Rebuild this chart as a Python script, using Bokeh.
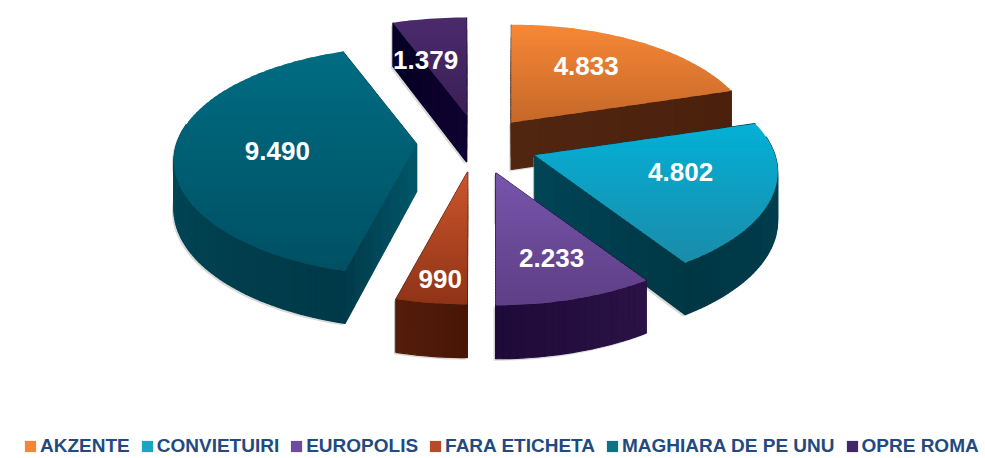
import math
from bokeh.plotting import figure
from bokeh.models import Legend, LegendItem, ColumnDataSource
from bokeh.embed import file_html
from bokeh.resources import INLINE
from bokeh.core.properties import value

# ---- data
categories = ["AKZENTE", "CONVIETUIRI", "EUROPOLIS", "FARA ETICHETA", "MAGHIARA DE PE UNU", "OPRE ROMA"]
values = [4833, 4802, 2233, 990, 9490, 1379]
labels = ["4.833", "4.802", "2.233", "990", "9.490", "1.379"]

# ---- styling
legend_colors = ["#F58634", "#1BA5C4", "#6F4BA0", "#B8492A", "#0A7386", "#43266A"]
top_from = ["#F68736", "#04B0D6", "#7655AB", "#CB552B", "#006C82", "#4A2A6C"]
top_to = ["#C56829", "#1B8BA9", "#5E3E85", "#8E3317", "#005063", "#3A2056"]
wall_a = ["#512611", "#004455", "#2B1246", "#551E0A", "#005567", "#0E0230"]
wall_b = ["#4A200C", "#003644", "#1E0A38", "#491606", "#003948", "#050022"]
paint_order = [5, 0, 1, 4, 2, 3]
label_r = [0.56, 0.60, 0.70, 0.80, 0.57, 0.55]
label_nudge = [(-2, -8), (7, -7), (3, 0), (-1, 3), (-3, 1), (-19, 0)]
apex_nudge = [(-2, 0), (1, 0), (1, 0), (-2, -2), (-1, -3), (0, -2)]

CX, CY, RX, RY, PERSP, EXPLODE = 477, 145, 240, 115, 0.15, 0.25
FONT = "Liberation Sans"


def proj(ax, ay, u, v):
    s = 1 - PERSP * v
    return ax + RX * u * s, ay - RY * v * s


def depth(y):
    return 47 + (y - 120) * 0.035


def mix(c1, c2, t):
    a = [int(c1[i:i + 2], 16) for i in (1, 3, 5)]
    b = [int(c2[i:i + 2], 16) for i in (1, 3, 5)]
    return "#%02x%02x%02x" % tuple(round(x + (y - x) * t) for x, y in zip(a, b))


def clip(poly, y0, keep_below):
    out = []
    n = len(poly)
    for i in range(n):
        p_, q = poly[i], poly[(i + 1) % n]
        ip = p_[1] >= y0 if keep_below else p_[1] <= y0
        iq = q[1] >= y0 if keep_below else q[1] <= y0
        if ip:
            out.append(p_)
        if ip != iq:
            t = (y0 - p_[1]) / (q[1] - p_[1])
            out.append((p_[0] + (q[0] - p_[0]) * t, y0))
    return out


p = figure(width=985, height=458, x_range=(0, 985), y_range=(458, 0),
           output_backend="svg", toolbar_location=None, min_border=0)
p.axis.visible = False
p.grid.visible = False
p.outline_line_color = None

total = sum(values)
starts = []
acc = 0.0
for val in values:
    starts.append(acc / total * 2 * math.pi)
    acc += val

for i in paint_order:
    a0 = starts[i]
    a1 = a0 + values[i] / total * 2 * math.pi
    mid = (a0 + a1) / 2
    ax = CX + RX * EXPLODE * math.sin(mid) + apex_nudge[i][0]
    ay = CY - RY * EXPLODE * math.cos(mid) + apex_nudge[i][1]
    n = max(8, int((a1 - a0) * 40))
    arc = [proj(ax, ay, math.sin(a0 + (a1 - a0) * k / n), math.cos(a0 + (a1 - a0) * k / n)) for k in range(n + 1)]
    arc_v = [math.cos(a0 + (a1 - a0) * k / n) for k in range(n + 1)]
    apex = (ax, ay)
    walls = []
    shadows = []
    # the two cut faces
    for end in (arc[0], arc[-1]):
        shadows.append(([apex[0], end[0], end[0], apex[0]],
                        [apex[1], end[1], end[1] + depth(end[1]), apex[1] + depth(apex[1])]))
        m = 8
        for k in range(m):
            t0, t1 = k / m, (k + 1) / m
            x0, y0 = apex[0] + (end[0] - apex[0]) * t0, apex[1] + (end[1] - apex[1]) * t0
            x1, y1 = apex[0] + (end[0] - apex[0]) * t1, apex[1] + (end[1] - apex[1]) * t1
            walls.append(([x0, x1, x1, x0], [y0, y1, y1 + depth(y1), y0 + depth(y0)], mix(wall_a[i], wall_b[i], t0)))
    # the front of the outer wall; on the left half it darkens towards the front
    front = [k for k in range(n + 1) if arc_v[k] < 0.15]
    if front:
        tx = [arc[k][0] for k in front]
        ty = [arc[k][1] for k in front]
        shadows.append((tx + tx[::-1], ty + [y + depth(y) for y in ty[::-1]]))
    for k in range(n):
        if arc_v[k] < 0.15 or arc_v[k + 1] < 0.15:
            (x0, y0), (x1, y1) = arc[k], arc[k + 1]
            t = 1 - k / n if mid > math.pi else k / n
            walls.append(([x0, x1, x1, x0], [y0, y1, y1 + depth(y1), y0 + depth(y0)], mix(wall_a[i], wall_b[i], t)))
    p.patches([[x - 2 for x in s[0]] for s in shadows], [[y + 2 for y in s[1]] for s in shadows],
              fill_color="#808080", fill_alpha=0.3, line_color=None)
    p.patches([w[0] for w in walls], [w[1] for w in walls], fill_color=[w[2] for w in walls],
              line_color=[w[2] for w in walls], line_width=1.2)
    # top surface, in overlapping horizontal bands for its gradient
    poly = [apex] + arc
    ymin = min(q[1] for q in poly)
    ymax = max(q[1] for q in poly)
    bxs, bys, bcs = [], [], []
    y = ymin
    while y < ymax:
        band = clip(clip(poly, y, True), y + 5, False)
        if len(band) >= 3:
            bxs.append([q[0] for q in band])
            bys.append([q[1] for q in band])
            bcs.append(mix(top_from[i], top_to[i], (y - ymin) / (ymax - ymin)))
        y += 3
    p.patches(bxs, bys, fill_color=bcs, line_color=None)

# value labels
lx, ly = [], []
for i in range(len(values)):
    a0 = starts[i]
    mid = a0 + values[i] / total * math.pi
    ax = CX + RX * EXPLODE * math.sin(mid)
    ay = CY - RY * EXPLODE * math.cos(mid)
    q = proj(ax, ay, label_r[i] * math.sin(mid), label_r[i] * math.cos(mid))
    lx.append(q[0] + label_nudge[i][0])
    ly.append(q[1] + label_nudge[i][1])
p.text(x=lx, y=ly, text=labels, text_color="#FFFFFF", text_font=value(FONT), text_font_style="bold",
       text_font_size="26px", text_align="center", text_baseline="middle")

# legend
items = []
for c, col in zip(categories, legend_colors):
    src = ColumnDataSource(dict(l=[float("nan")], r=[float("nan")], t=[float("nan")], b=[float("nan")]))
    r = p.quad(left="l", right="r", top="t", bottom="b", source=src, fill_color=col, line_color=None)
    items.append(LegendItem(label=c, renderers=[r]))
legend = Legend(items=items, orientation="horizontal", location=(23, 1), margin=0, padding=0, spacing=10,
                glyph_width=14, glyph_height=14, label_standoff=3, label_height=20, label_width=10,
                label_text_font=FONT, label_text_font_style="bold", label_text_font_size="19px",
                label_text_color="#234A80", border_line_color=None, background_fill_alpha=0)
p.add_layout(legend, "center")

open("out.html", "w").write(file_html(p, INLINE))
